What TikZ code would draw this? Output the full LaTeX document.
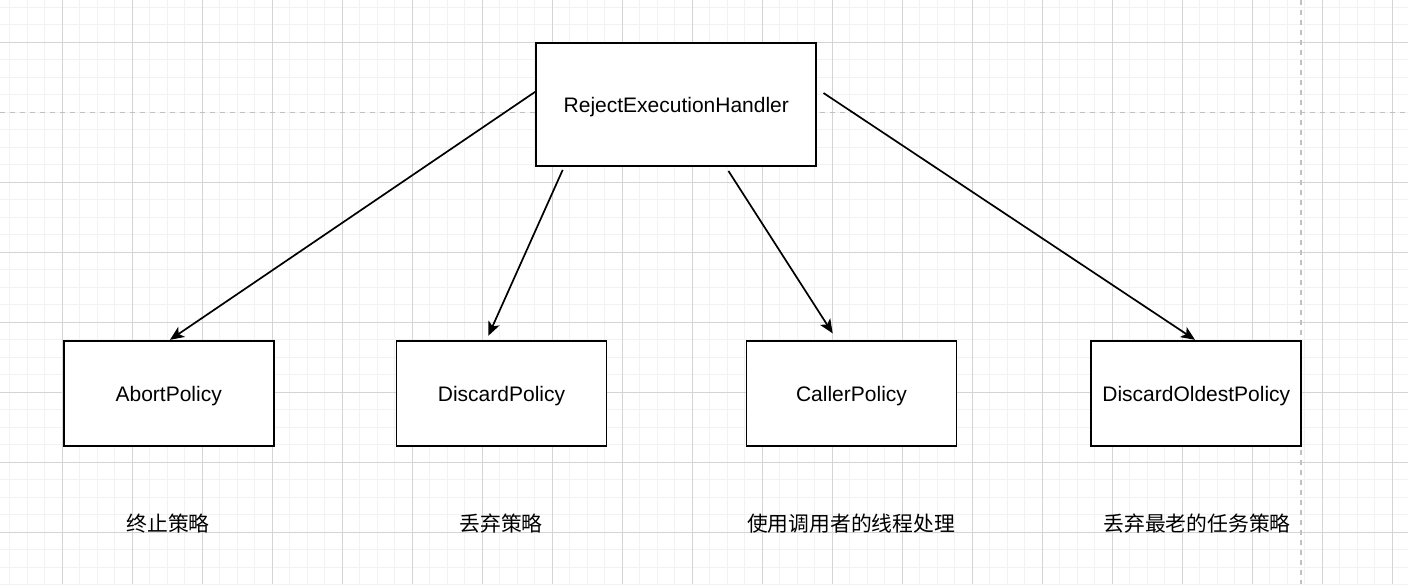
\documentclass[tikz,border=0pt]{standalone}
\usepackage{fontspec}
\setmainfont{Liberation Sans}
\newfontfamily\cjk{Noto Sans CJK SC}
\usetikzlibrary{arrows.meta}
\definecolor{gridminor}{HTML}{F2F2F2}
\definecolor{gridmajor}{HTML}{D4D4D4}
\definecolor{gdash}{HTML}{C0C0C0}
\tikzset{
  box/.style={draw=black, line width=0.9pt, fill=white, inner sep=0pt,
    text height=10.5pt, text depth=2.1pt,
    font=\fontsize{10.5}{12.6}\selectfont},
  topbox/.style={box, minimum width=140pt, minimum height=61.2pt},
  polbox/.style={box, minimum width=105pt, minimum height=52.5pt},
  note/.style={inner sep=0pt, font=\cjk\fontsize{10.4}{12.5}\selectfont},
  arr/.style={draw=black, line width=0.85pt,
    -{Stealth[length=7pt, width=6pt, inset=1.8pt]}},
  gmin/.style={draw=gridminor, line width=0.5pt},
  gmaj/.style={draw=gridmajor, line width=0.5pt},
  gdsh/.style={draw=gdash, line width=0.75pt, dash pattern=on 2.5pt off 2.5pt}
}
\begin{document}
\begin{tikzpicture}[x=0.5pt, y=-0.5pt]
  \fill[white] (0,0) rectangle (1408,584);
  \useasboundingbox (0,0) rectangle (1408,584);
  % minor grid
  \foreach \k in {0,...,80} { \draw[gmin] ({9.8+17.5*\k},0) -- ({9.8+17.5*\k},584); }
  \foreach \k in {0,...,33} { \draw[gmin] (0,{7.3+17.5*\k}) -- (1408,{7.3+17.5*\k}); }
  % major grid
  \foreach \k in {-1,...,19} { \draw[gmaj] ({62.3+70*\k},0) -- ({62.3+70*\k},584); }
  \foreach \k in {0,2,3,4,5,6,7} { \draw[gmaj] (0,{42.3+70*\k}) -- (1408,{42.3+70*\k}); }
  % dashed guides
  \draw[gdsh] (0,112.3) -- (1408,112.3);
  \draw[gdsh] (1301,0) -- (1301,584);

  % nodes
  \node[topbox] (top) at (676.3,104.5) {RejectExecutionHandler};
  \node[polbox] (abort) at (168.7,393.2) {AbortPolicy};
  \node[polbox] (discard) at (501.5,393.2) {DiscardPolicy};
  \node[polbox] (caller) at (851.5,393.2) {CallerPolicy};
  \node[polbox] (oldest) at (1196.3,393.2) {DiscardOldestPolicy};

  % notes
  \node[note] (n1) at (168,523.5) {终止策略};
  \node[note] (n2) at (501,523.5) {丢弃策略};
  \node[note] (n3) at (851,523.5) {使用调用者的线程处理};
  \node[note] (n4) at (1197,523.5) {丢弃最老的任务策略};

  % connectors
  \draw[arr] ([shift={(1,-13.5)}]top.west) -- ([shift={(1.3,0)}]abort.north);
  \draw[arr] ([shift={(27.3,3.3)}]top.south west) -- ([shift={(-13.2,-4)}]discard.north);
  \draw[arr] ([shift={(193,4.3)}]top.south west) -- ([shift={(-18.8,-6.4)}]caller.north);
  \draw[arr] ([shift={(6.3,-11.5)}]top.east) -- ([shift={(-1.3,0)}]oldest.north);
\end{tikzpicture}
\end{document}
